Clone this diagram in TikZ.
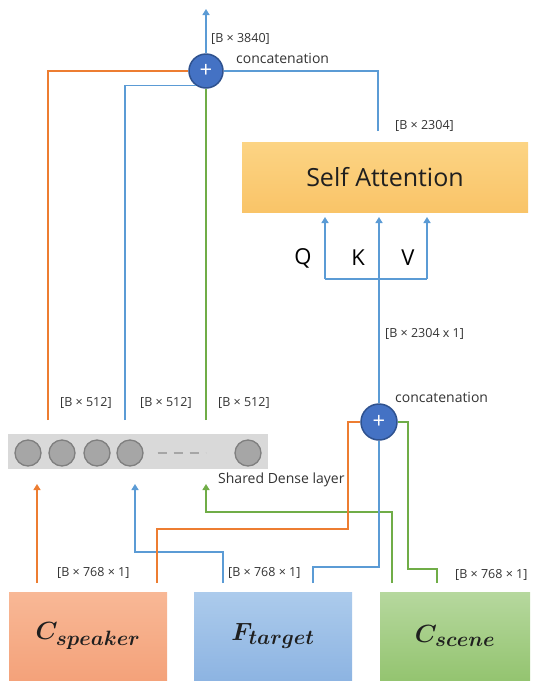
\documentclass[tikz,border=0pt]{standalone}
\usepackage{fontspec}
\setmainfont{Open Sans}
\usetikzlibrary{arrows.meta,calc}
\definecolor{oline}{HTML}{ED7D31}
\definecolor{bline}{HTML}{5B9BD5}
\definecolor{gline}{HTML}{70AD47}
\definecolor{plusfill}{HTML}{4472C4}
\definecolor{plusdraw}{HTML}{2F528F}
\definecolor{densefill}{HTML}{D9D9D9}
\definecolor{neurfill}{HTML}{A6A6A6}
\definecolor{neurdraw}{HTML}{7F7F7F}
\definecolor{txt}{HTML}{333333}
\definecolor{spktop}{RGB}{248,184,150}
\definecolor{spkbot}{RGB}{244,162,122}
\definecolor{tgttop}{RGB}{172,203,236}
\definecolor{tgtbot}{RGB}{141,180,226}
\definecolor{scntop}{RGB}{182,216,158}
\definecolor{scnbot}{RGB}{148,196,112}
\definecolor{atttop}{RGB}{252,212,132}
\definecolor{attbot}{RGB}{249,196,104}
\begin{document}
\begin{tikzpicture}[x=1pt,y=-1pt,
  conn/.style={line width=1.6pt},
  tip/.style={-{Triangle[width=7pt,length=6pt]}},
  ol/.style={conn,draw=oline},
  bl/.style={conn,draw=bline},
  gl/.style={conn,draw=gline},
  lbl/.style={font=\fontsize{12.5}{15}\selectfont,anchor=west,inner sep=0,text=txt},
  clbl/.style={font=\fontsize{14}{16}\selectfont,anchor=west,inner sep=0,text=txt},
  qkv/.style={font=\fontsize{22}{24}\selectfont,inner sep=0,text=black},
  plusnode/.style={circle,fill=plusfill,draw=plusdraw,line width=1.5pt,minimum size=#1,inner sep=0,text=white,font=\fontsize{22}{22}\selectfont},
  inbox/.style={inner sep=0,minimum height=88pt,font=\fontsize{28}{32}\selectfont\boldmath,text=black!88},
  neuron/.style={circle,fill=neurfill,draw=neurdraw,line width=1.3pt,minimum size=26pt,inner sep=0}
]
\useasboundingbox (0,0) rectangle (537,681);

% input boxes
\node[inbox,minimum width=158pt,top color=spktop,bottom color=spkbot] (spk) at (88,636) {$C_{speaker}$};
\node[inbox,minimum width=158pt,top color=tgttop,bottom color=tgtbot] (tgt) at (273,636) {$F_{target}$};
\node[inbox,minimum width=150pt,top color=scntop,bottom color=scnbot] (scn) at (455,636) {$C_{scene}$};

% self attention
\node[minimum width=286pt,minimum height=70pt,inner sep=0,top color=atttop,bottom color=attbot,font=\fontsize{25}{28}\selectfont,text=black!88] (att) at (385,177) {Self Attention};

% dense layer
\node[minimum width=260pt,minimum height=35pt,inner sep=0,fill=densefill] (dense) at (138,451.5) {};
\node[neuron] (n1) at (28,453) {};
\node[neuron] (n2) at (62,453) {};
\node[neuron] (n3) at (97,453) {};
\node[neuron] (n4) at (130,453) {};
\node[neuron] (n5) at (248,453) {};
\draw[neurfill,line width=1.6pt,dash pattern=on 9pt off 7pt] ($(n4.east)+(14,0)$) -- ++(48,0);

% plus nodes
\node[plusnode=34pt] (p1) at (206,71) {+};
\node[plusnode=36pt] (p2) at (379,422) {+};

% coordinates
\coordinate (sL) at (37,583);
\coordinate (sR) at (157,583);
\coordinate (tL) at (223,583);
\coordinate (tR) at (313,583);
\coordinate (cL) at (392,583);
\coordinate (cR) at (437,583);
\coordinate (inS) at (37,484);
\coordinate (inT) at (135,484);
\coordinate (inC) at (206,484);
\coordinate (dO) at (48,420);
\coordinate (dB) at (125,420);
\coordinate (dG) at (206,420);
\coordinate (attOut) at (378,131);
\coordinate (top) at (206,9);
\coordinate (qb) at (325,279);
\coordinate (vb) at (427,279);
\coordinate (qt) at (325,217);
\coordinate (kt) at (379,217);
\coordinate (vt) at (427,217);

% inputs to dense layer
\draw[ol,tip] (sL) -- (inS);
\draw[bl,tip] (tL) |- ($(inT)+(0,68)$) -- (inT);
\draw[gl,tip] (cL) |- ($(inC)+(0,28)$) -- (inC);

% inputs to lower concatenation
\draw[ol] (sR) |- (348,529) |- (p2.west);
\draw[bl] (tR) -- (313,567) -| (p2.south);
\draw[gl] (cR) -- (437,569) -| ($(p2.east)+(10,0)$) -- (p2.east);

% to self attention
\draw[bl,tip] (p2.north) -- (kt);
\draw[bl] (qb) -- (vb);
\draw[bl,tip] (qb) -- (qt);
\draw[bl,tip] (vb) -- (vt);

% to top concatenation
\draw[ol] (dO) |- (p1.west);
\draw[bl] (dB) |- (p1.-125);
\draw[gl] (dG) -- (p1.south);
\draw[bl] (attOut) |- (p1.east);
\draw[bl,tip] (p1.north) -- (top);

% labels
\node[lbl] (l3840) at (211,39) {[B × 3840]};
\node[clbl] (cat1) at (236,58) {concatenation};
\node[lbl] (l2304) at (395,126) {[B × 2304]};
\node[lbl] (l2304b) at (385,334) {[B × 2304 x 1]};
\node[clbl] (cat2) at (395,397) {concatenation};
\node[lbl] (a512) at (60,403) {[B × 512]};
\node[lbl] (b512) at (140,403) {[B × 512]};
\node[lbl] (c512) at (218,403) {[B × 512]};
\node[clbl] (sdl) at (218,480) {Shared Dense layer};
\node[lbl] (s768) at (57,573) {[B × 768 × 1]};
\node[lbl] (t768) at (228,573) {[B × 768 × 1]};
\node[lbl] (c768) at (455,575) {[B × 768 × 1]};
\node[qkv] (Q) at (303,258) {Q};
\node[qkv] (K) at (358,258) {K};
\node[qkv] (V) at (408,258) {V};
\end{tikzpicture}
\end{document}
